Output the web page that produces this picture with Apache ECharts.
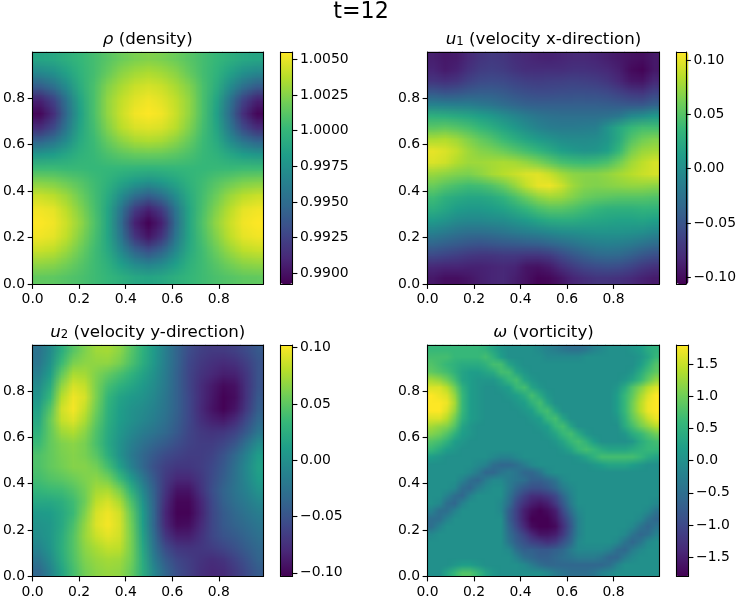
<!DOCTYPE html>
<html><head><meta charset="utf-8">
<style>html,body{margin:0;padding:0;background:#fff}#c{width:739px;height:600px}</style>
<script src="https://cdn.jsdelivr.net/npm/echarts@6/dist/echarts.min.js"></script>
</head><body><div id="c"></div>
<script>
const viridis=['#440154','#482878','#3e4989','#31688e','#26828e','#1f9e89','#35b779','#6ece58','#b5de2b','#fde725'];
// Values. Rows run from the top of each panel to the bottom.
// density: offset from 1, in units of 0.0001
const rhoOffset=[
[-12,-10,-5,1,6,12,18,22,24,22,18,12,6,1,-5,-10,-12],
[-32,-26,-14,-2,6,16,26,32,35,32,26,16,6,-2,-14,-26,-32],
[-60,-48,-28,-6,8,24,34,42,45,42,34,24,8,-6,-28,-48,-60],
[-92,-75,-44,-12,8,28,40,48,52,48,40,28,8,-12,-44,-75,-92],
[-105,-86,-50,-15,8,28,42,52,55,52,42,28,8,-15,-50,-86,-105],
[-88,-72,-42,-12,6,24,38,46,48,46,38,24,6,-12,-42,-72,-88],
[-55,-45,-28,-8,3,16,26,33,35,33,26,16,3,-8,-28,-45,-55],
[-22,-18,-11,-3,2,8,13,16,17,16,13,8,2,-3,-11,-18,-22],
[3,3,2,2,1,1,0,-1,-2,-1,0,1,1,2,2,3,3],
[24,22,17,11,4,-3,-12,-20,-25,-20,-12,-3,4,11,17,22,24],
[42,38,30,18,6,-8,-28,-48,-58,-48,-28,-8,6,18,30,38,42],
[52,49,38,24,8,-12,-44,-78,-92,-78,-44,-12,8,24,38,49,52],
[55,52,42,28,10,-12,-50,-92,-107,-92,-50,-12,10,28,42,52,55],
[52,49,39,24,8,-12,-44,-82,-98,-82,-44,-12,8,24,39,49,52],
[42,39,30,18,5,-9,-32,-56,-68,-56,-32,-9,5,18,30,39,42],
[28,26,20,12,4,-4,-17,-30,-36,-30,-17,-4,4,12,20,26,28],
[15,14,11,8,4,0,-5,-10,-12,-10,-5,0,4,8,11,14,15]];
// velocity x, in units of 0.001
const u1Milli=[
[-88,-92,-90,-82,-74,-70,-72,-78,-82,-85,-86,-84,-82,-82,-84,-88,-92,-96,-98,-92],
[-84,-90,-86,-76,-68,-66,-68,-74,-78,-78,-78,-78,-76,-76,-78,-82,-88,-100,-104,-92],
[-72,-76,-72,-64,-58,-56,-58,-62,-66,-67,-66,-65,-64,-65,-67,-72,-82,-92,-94,-82],
[-46,-50,-48,-44,-42,-42,-45,-50,-54,-56,-56,-55,-54,-54,-55,-58,-64,-70,-72,-62],
[-12,-14,-16,-16,-20,-24,-30,-36,-40,-42,-42,-42,-42,-42,-42,-43,-46,-48,-48,-40],
[30,28,24,20,14,8,0,-8,-16,-22,-26,-28,-28,-28,-28,-26,-20,-5,0,8],
[52,54,50,44,36,28,18,8,-2,-10,-16,-18,-18,-16,-14,4,22,36,42,42],
[80,82,76,66,56,48,38,28,18,10,4,-2,-4,-4,-2,6,24,48,60,66],
[100,96,88,76,68,64,58,50,42,34,24,14,8,4,6,14,36,62,74,78],
[96,92,82,76,76,78,80,78,72,64,54,44,40,38,40,46,60,76,86,94],
[74,70,66,64,70,78,84,90,96,98,90,78,70,68,68,72,78,84,90,94],
[58,50,44,40,42,48,58,72,88,100,102,92,76,68,66,68,70,72,72,70],
[40,30,24,20,20,24,32,44,58,70,76,74,66,58,54,52,50,50,50,48],
[28,20,12,8,8,12,16,24,34,44,50,50,46,40,34,30,30,30,32,32],
[10,4,-4,-6,-6,-4,-2,4,10,18,24,26,26,22,20,18,16,16,18,14],
[-12,-18,-24,-28,-28,-26,-22,-18,-14,-10,-6,-2,0,2,4,4,4,2,0,-6],
[-36,-40,-44,-48,-50,-48,-46,-44,-42,-40,-36,-30,-24,-18,-14,-12,-14,-18,-24,-30],
[-58,-62,-66,-70,-72,-72,-70,-70,-72,-72,-68,-58,-48,-40,-34,-32,-34,-40,-48,-54],
[-82,-84,-84,-86,-86,-84,-82,-84,-94,-96,-90,-78,-68,-60,-56,-54,-56,-62,-70,-76],
[-92,-98,-98,-94,-88,-84,-82,-88,-96,-104,-102,-94,-84,-78,-74,-74,-76,-80,-86,-90]];
// velocity y, in units of 0.001
const u2Milli=[
[-25,-5,25,48,62,72,74,66,48,28,8,-15,-38,-55,-64,-68,-68,-64,-56,-46],
[-22,0,36,60,66,68,68,60,44,26,6,-16,-38,-58,-68,-74,-78,-74,-64,-50],
[-14,10,52,76,74,62,52,42,30,16,0,-18,-40,-60,-72,-80,-86,-84,-70,-50],
[-4,22,68,90,84,60,40,28,18,8,-4,-20,-40,-60,-76,-88,-98,-94,-72,-50],
[4,34,80,98,90,60,32,16,8,2,-8,-22,-40,-58,-76,-90,-102,-96,-72,-46],
[14,46,88,100,84,56,28,12,2,-4,-12,-24,-40,-58,-78,-92,-102,-92,-68,-42],
[20,54,84,92,76,50,26,10,0,-8,-16,-28,-42,-58,-74,-84,-88,-78,-56,-34],
[28,52,72,78,66,44,22,6,-6,-16,-24,-34,-46,-60,-68,-72,-70,-62,-44,-22],
[36,52,62,66,60,42,20,2,-14,-26,-36,-44,-54,-62,-66,-66,-60,-48,-26,-4],
[44,52,60,64,60,48,26,2,-18,-34,-46,-56,-62,-66,-66,-62,-50,-34,-12,10],
[44,52,58,64,64,58,40,14,-12,-34,-52,-64,-70,-70,-66,-58,-46,-28,-6,14],
[40,46,50,56,62,66,58,36,8,-20,-46,-68,-80,-80,-70,-56,-42,-26,-8,10],
[32,36,38,46,58,74,76,60,28,-6,-40,-72,-92,-92,-74,-54,-38,-24,-12,2],
[20,20,26,38,56,82,90,76,44,4,-38,-78,-100,-100,-82,-58,-40,-28,-18,-8],
[8,10,20,36,62,90,98,88,54,10,-36,-82,-102,-102,-84,-60,-44,-34,-24,-16],
[2,6,20,42,68,92,100,90,58,12,-36,-80,-98,-96,-80,-60,-46,-38,-30,-22],
[-2,6,24,46,70,86,94,88,60,16,-30,-70,-86,-86,-74,-60,-50,-44,-36,-28],
[-10,4,26,46,66,76,84,82,60,20,-24,-56,-70,-72,-70,-66,-60,-52,-42,-34],
[-22,-4,22,44,62,70,74,72,58,24,-16,-44,-60,-66,-72,-76,-72,-62,-50,-38],
[-34,-12,16,40,58,66,70,68,54,26,-8,-36,-54,-64,-74,-80,-78,-68,-56,-44]];
// vorticity, in units of 0.1
const omegaTenths=[
[6,6,6,6,6,6,6,5,3,1,0,0,0,0,-1,-2,-3,-4,-5,-5,-4,-2,-1,0,0,0,1,2,4,5],
[7,7,7,6,6,6,6,7,5,2,0,0,0,0,0,-1,-1,-1,-1,-1,0,0,0,0,0,0,0,1,3,6],
[8,7,6,5,4,4,4,5,7,7,3,1,0,0,0,0,0,0,0,0,0,0,0,0,0,0,0,2,5,8],
[9,8,7,5,3,2,2,3,4,7,7,3,1,0,0,0,0,0,0,0,0,0,0,0,0,0,1,4,7,9],
[13,12,10,7,3,2,1,1,1,3,6,7,3,1,0,0,0,0,0,0,0,0,0,0,0,1,3,6,9,12],
[16,16,14,10,5,2,1,0,0,1,2,6,7,3,1,0,0,0,0,0,0,0,0,0,1,4,8,11,14,16],
[18,17,16,12,6,2,1,0,0,0,1,2,4,7,4,1,0,0,0,0,0,0,0,0,2,6,9,13,16,18],
[18,18,17,13,6,2,1,0,0,0,0,1,2,5,7,3,0,0,0,0,0,0,0,0,2,6,10,14,17,18],
[18,18,16,12,6,2,1,0,0,0,0,0,1,2,6,7,3,0,0,0,0,0,0,0,2,6,10,14,17,18],
[16,16,14,10,5,2,1,0,0,0,0,0,0,1,2,6,7,3,0,0,0,0,0,0,1,5,9,12,15,17],
[13,12,11,8,3,1,0,0,0,0,0,0,0,0,1,2,6,7,3,0,0,0,0,0,0,4,7,10,12,14],
[11,10,8,5,2,1,0,0,0,0,0,0,0,0,0,1,3,6,7,4,1,0,0,0,0,1,4,6,8,10],
[8,7,5,2,1,0,0,0,0,0,0,0,0,0,0,0,1,3,6,7,5,2,0,0,0,0,1,4,6,7],
[6,4,2,1,0,0,0,0,0,0,0,0,0,0,0,0,0,1,3,6,7,6,4,3,3,3,4,5,6,6],
[2,1,0,0,0,0,0,0,-1,-2,-2,-1,0,0,0,0,0,0,0,1,3,5,7,7,7,7,7,6,4,3],
[0,0,0,0,0,0,-1,-2,-5,-6,-6,-5,-3,-1,0,0,0,0,0,0,0,1,2,3,3,3,2,1,0,0],
[0,0,0,0,0,-1,-3,-6,-6,-4,-3,-4,-6,-6,-4,-1,0,0,0,0,0,0,0,0,0,0,0,0,0,0],
[0,0,0,0,-2,-5,-6,-3,-1,-1,-3,-4,-5,-7,-7,-6,-4,-1,0,0,0,0,0,0,0,0,0,0,0,0],
[0,0,0,-1,-5,-6,-3,-1,0,0,-3,-6,-8,-9,-9,-8,-6,-3,-1,0,0,0,0,0,0,0,0,0,0,0],
[0,0,-2,-5,-6,-2,0,0,0,0,-4,-8,-11,-13,-13,-12,-10,-6,-2,0,0,0,0,0,0,0,0,0,0,0],
[0,-1,-5,-6,-2,0,0,0,0,-1,-5,-10,-13,-15,-16,-15,-12,-8,-3,0,0,0,0,0,0,0,0,0,0,-1],
[-2,-5,-5,-2,0,0,0,0,0,-1,-7,-11,-15,-17,-18,-17,-15,-10,-5,-1,0,0,0,0,0,0,0,0,-1,-4],
[-5,-5,-2,0,0,0,0,0,0,0,-7,-11,-15,-18,-18,-18,-16,-12,-7,-2,0,0,0,0,0,0,0,-1,-4,-6],
[-5,-2,0,0,0,0,0,0,0,0,-6,-10,-14,-17,-18,-18,-17,-13,-8,-2,0,0,0,0,0,0,-1,-4,-6,-4],
[-1,0,0,0,0,0,0,0,0,0,-5,-8,-11,-14,-16,-16,-15,-12,-7,-2,0,0,0,0,0,-1,-4,-6,-5,-2],
[0,0,0,0,0,0,0,0,0,0,-4,-7,-9,-11,-12,-13,-12,-9,-6,-1,0,0,0,0,-1,-4,-6,-4,-1,0],
[0,0,0,0,0,0,0,0,0,0,-1,-5,-7,-7,-8,-8,-7,-6,-3,-1,-1,-1,-1,-2,-5,-6,-3,-1,0,0],
[0,0,0,0,0,0,0,0,0,0,0,-2,-5,-6,-7,-7,-6,-5,-4,-3,-3,-3,-4,-6,-6,-3,-1,0,0,0],
[0,0,0,1,2,2,1,0,0,0,0,0,-1,-3,-5,-6,-6,-6,-6,-6,-6,-6,-6,-5,-2,0,0,0,0,0],
[0,0,3,6,8,8,6,3,1,0,0,0,0,0,0,-1,-3,-4,-5,-5,-5,-4,-2,-1,0,0,0,0,0,0]];
const axisTicks=[0,0.2,0.4,0.6,0.8];
const rhoTicks=[0.99,0.9925,0.995,0.9975,1,1.0025,1.005];
const u1Ticks=[-0.1,-0.05,0,0.05,0.1];
const u2Ticks=[-0.1,-0.05,0,0.05,0.1];
const omegaTicks=[-1.5,-1,-0.5,0,0.5,1,1.5];

const panels=[
 {title:'{m|ρ} (density)',rows:rhoOffset,conv:v=>1+v*1e-4,min:0.98925,max:1.00551,ticks:rhoTicks,dec:4,x:32,w:231.5,y:52,h:232,xMax:0.992,cb:280.5},
 {title:'{m|u}{s|1} (velocity x-direction)',rows:u1Milli,conv:v=>v*1e-3,min:-0.1061,max:0.1074,ticks:u1Ticks,dec:2,x:427.5,w:232,y:52,h:232,xMax:0.998,cb:676.5},
 {title:'{m|u}{s|2} (velocity y-direction)',rows:u2Milli,conv:v=>v*1e-3,min:-0.1033,max:0.1024,ticks:u2Ticks,dec:2,x:32,w:231.5,y:345,h:231.5,xMax:0.992,cb:280.5},
 {title:'{m|ω} (vorticity)',rows:omegaTenths,conv:v=>v*0.1,min:-1.8,max:1.794,ticks:omegaTicks,dec:1,x:427.5,w:232,y:345,h:231.5,xMax:0.998,cb:676.5}];
const yMax=0.998, font='DejaVu Sans', cbW=12;
const line={show:true,onZero:false,lineStyle:{color:'#000',width:1.1}};
const tickStyle={length:4.9,lineStyle:{color:'#000',width:1.1}};

function panelCanvas(p){
  const n=p.rows.length,m=p.rows[0].length,cv=document.createElement('canvas');
  cv.width=m;cv.height=n;const ctx=cv.getContext('2d');
  p.rows.forEach((row,r)=>row.forEach((v,c)=>{
    const t=Math.min(1,Math.max(0,(p.conv(v)-p.min)/(p.max-p.min)));
    ctx.fillStyle=echarts.color.lerp(t,viridis);ctx.fillRect(c,r,1,1);}));
  return cv;
}
const grid=[],xAxis=[],yAxis=[],series=[],visualMap=[];
const title=[{text:'t=12',left:356,top:-4,textAlign:'center',textStyle:{fontFamily:font,fontSize:22.2,fontWeight:'normal',color:'#000'}}];
panels.forEach((p,i)=>{
  const n=p.rows.length,m=p.rows[0].length;
  title.push({text:p.title,left:p.x+p.w/2-5,top:p.y-26,textAlign:'center',textStyle:{fontFamily:font,fontSize:16.67,fontWeight:'normal',color:'#000',
    rich:{m:{fontFamily:font,fontStyle:'italic',fontSize:16.67},s:{fontFamily:font,fontSize:11.7,verticalAlign:'bottom',lineHeight:14,padding:[6,0,0,0]}}}});
  grid.push({left:p.x,top:p.y,width:p.w,height:p.h,show:false});
  grid.push({left:p.cb,top:p.y,width:cbW,height:p.h,show:false});
  const g=2*i,lab={color:'#000',fontFamily:font,fontSize:13.9,margin:7.5};
  const fmt=v=>v.toFixed(1);
  xAxis.push({type:'value',gridIndex:g,min:0,max:p.xMax,position:'bottom',z:6,axisLine:line,axisTick:{...tickStyle,customValues:axisTicks},axisLabel:{...lab,margin:8.5,customValues:axisTicks,formatter:fmt},splitLine:{show:false}});
  xAxis.push({type:'category',gridIndex:g,position:'top',z:6,data:Array.from({length:m},(_,k)=>k),axisLine:line,axisTick:{show:false},axisLabel:{show:false},splitLine:{show:false}});
  xAxis.push({type:'value',gridIndex:g+1,min:0,max:1,position:'bottom',z:6,axisLine:line,axisTick:{show:false},axisLabel:{show:false},splitLine:{show:false}});
  xAxis.push({type:'value',gridIndex:g+1,min:0,max:1,position:'top',z:6,axisLine:line,axisTick:{show:false},axisLabel:{show:false},splitLine:{show:false}});
  yAxis.push({type:'value',gridIndex:g,min:0,max:yMax,position:'left',z:6,axisLine:line,axisTick:{...tickStyle,customValues:axisTicks},axisLabel:{...lab,padding:[2,0,0,0],customValues:axisTicks,formatter:fmt},splitLine:{show:false}});
  yAxis.push({type:'category',gridIndex:g,position:'right',z:6,data:Array.from({length:n},(_,k)=>k),axisLine:line,axisTick:{show:false},axisLabel:{show:false},splitLine:{show:false}});
  yAxis.push({type:'value',gridIndex:g+1,min:p.min,max:p.max,position:'right',z:6,axisLine:line,axisTick:{...tickStyle,customValues:p.ticks},axisLabel:{...lab,padding:[2,0,0,0],customValues:p.ticks,formatter:v=>v.toFixed(p.dec).replace('-','\u2212')},splitLine:{show:false}});
  yAxis.push({type:'value',gridIndex:g+1,min:p.min,max:p.max,position:'left',z:6,axisLine:line,axisTick:{show:false},axisLabel:{show:false},splitLine:{show:false}});
  const cells=[];
  p.rows.forEach((row,r)=>row.forEach((v,c)=>cells.push([c,n-1-r,p.conv(v)])));
  series.push({type:'heatmap',xAxisIndex:4*i+1,yAxisIndex:4*i+1,data:cells,silent:true,progressive:0,animation:false});
  const cv=panelCanvas(p);
  // smooth display of the same cells, the way imshow resamples its array
  series.push({type:'custom',xAxisIndex:4*i,yAxisIndex:4*i,data:[[0,0]],silent:true,animation:false,clip:true,
    renderItem:(params,api)=>{
      const a=api.coord([0,yMax]),b=api.coord([p.xMax,0]);
      return {type:'image',silent:true,style:{image:cv,x:a[0],y:a[1],width:b[0]-a[0],height:b[1]-a[1]}};
    }});
  visualMap.push({type:'continuous',seriesIndex:2*i,min:p.min,max:p.max,left:p.cb,top:p.y,itemWidth:cbW,itemHeight:p.h,padding:0,calculable:false,hoverLink:false,text:null,realtime:false,inRange:{color:viridis}});
});
const chart=echarts.init(document.getElementById('c'),null,{renderer:'canvas'});
chart.setOption({animation:false,backgroundColor:'#fff',title,grid,xAxis,yAxis,visualMap,series});
</script></body></html>
